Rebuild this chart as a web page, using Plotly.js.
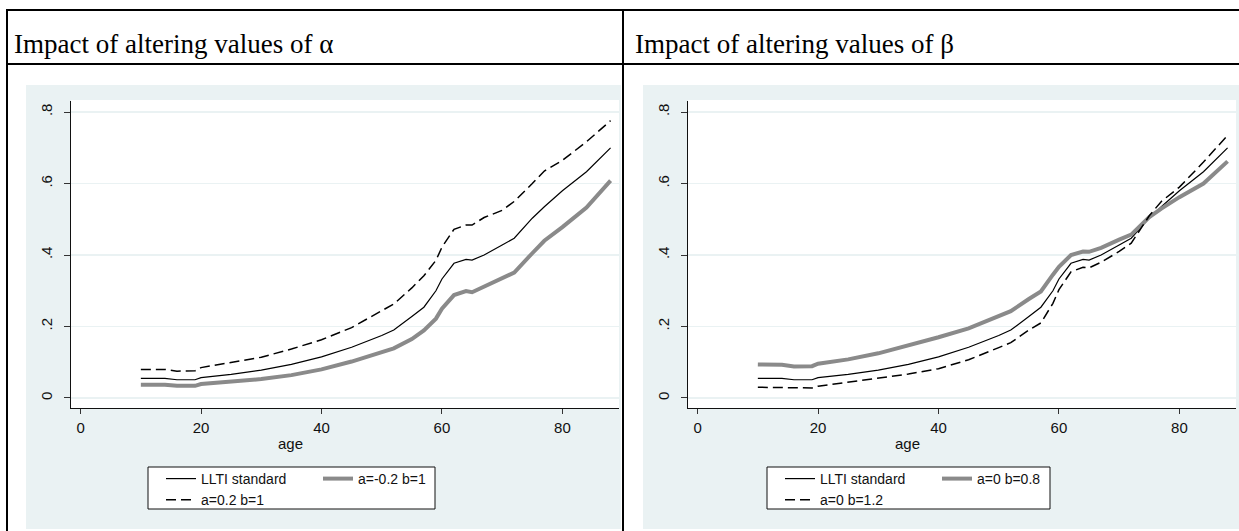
<!DOCTYPE html>
<html><head><meta charset="utf-8">
<script src="https://cdn.plot.ly/plotly-3.0.1.min.js"></script>
<style>html,body{margin:0;padding:0;background:#fff;overflow:hidden}#chart{width:1239px;height:531px}</style>
</head><body><div id="chart"></div>
<script>
// ---- data ----
const age      = [10,14,16,19,20,25,30,35,40,45,50,52,55,57,59,60,62,64,65,67,70,72,75,77,80,84,88];
const lltiStd  = [.055,.055,.051,.051,.057,.066,.078,.094,.115,.142,.175,.190,.228,.254,.300,.333,.377,.388,.386,.400,.428,.447,.503,.535,.580,.633,.700];
const aPlus    = [.080,.080,.075,.076,.085,.100,.114,.137,.163,.197,.243,.263,.308,.342,.385,.422,.472,.484,.484,.505,.525,.550,.600,.635,.665,.717,.776];
const aMinus   = [.037,.037,.034,.034,.039,.045,.053,.064,.080,.102,.127,.139,.165,.189,.222,.250,.288,.299,.296,.311,.335,.351,.405,.440,.478,.533,.608];
const bLow     = [.094,.093,.088,.089,.096,.108,.125,.147,.170,.195,.230,.243,.277,.298,.345,.367,.400,.410,.409,.420,.443,.457,.506,.530,.562,.600,.662];
const bHigh    = [.030,.030,.028,.028,.033,.045,.055,.067,.082,.107,.141,.155,.190,.210,.265,.303,.353,.366,.364,.380,.410,.433,.510,.550,.590,.660,.735];
const xTickVals = [0,20,40,60,80];
const yTickVals = [0,0.2,0.4,0.6,0.8];
const yTickText = ['0','.2','.4','.6','.8'];
const panelTitles = ['Impact of altering values of α','Impact of altering values of β'];
const xTitle = 'age';
const leftNames  = ['LLTI standard','a=-0.2 b=1','a=0.2 b=1'];
const rightNames = ['LLTI standard','a=0 b=0.8','a=0 b=1.2'];

// ---- layout helpers ----
const W = 1239, H = 531;
const px = v => v / W;
const py = v => 1 - v / H;
const BG = '#EAF2F3';
const GRAYLINE = '#8A8A8A';
const sans = 'Liberation Sans, Arial, sans-serif';
const serif = 'Liberation Serif, Times New Roman, serif';

function styleSolid(){ return {color:'#000', width:1.2}; }
function styleGray(){ return {color:GRAYLINE, width:4}; }
function styleDash(){ return {color:'#000', width:1.5, dash:'10px,5px'}; }

const traces = [
  {x:age, y:lltiStd, name:leftNames[0], mode:'lines', line:styleSolid(), xaxis:'x', yaxis:'y', legend:'legend', legendgroup:'L1'},
  {x:age, y:aMinus,  name:leftNames[1], mode:'lines', line:styleGray(),  xaxis:'x', yaxis:'y', legend:'legend', legendgroup:'L2'},
  {x:age, y:aPlus,   name:leftNames[2], mode:'lines', line:styleDash(),  xaxis:'x', yaxis:'y', legend:'legend', legendgroup:'L1'},
  {x:age, y:lltiStd, name:rightNames[0], mode:'lines', line:styleSolid(), xaxis:'x2', yaxis:'y2', legend:'legend2', legendgroup:'R1'},
  {x:age, y:bLow,    name:rightNames[1], mode:'lines', line:styleGray(),  xaxis:'x2', yaxis:'y2', legend:'legend2', legendgroup:'R2'},
  {x:age, y:bHigh,   name:rightNames[2], mode:'lines', line:styleDash(),  xaxis:'x2', yaxis:'y2', legend:'legend2', legendgroup:'R1'}
];

function xAxis(d0, d1, anchor){
  return {domain:[px(d0), px(d1)], anchor:anchor, range:[-1.6, 89.4], tickmode:'array', tickvals:xTickVals,
    ticks:'outside', ticklen:5, tickcolor:'#333', tickwidth:1, showline:true, linecolor:'#111', linewidth:1,
    showgrid:false, zeroline:false, tickfont:{family:sans, size:15, color:'#111'}, ticklabelstandoff:1, fixedrange:true};
}
function yAxis(anchor){
  return {domain:[py(408), py(101)], anchor:anchor, range:[-0.028, 0.831], tickmode:'array', tickvals:yTickVals, ticktext:yTickText,
    tickangle:-90, ticks:'outside', ticklen:6, tickcolor:'#333', tickwidth:1, showline:true, linecolor:'#111', linewidth:1,
    showgrid:true, gridcolor:BG, gridwidth:1.2, zeroline:false, tickfont:{family:sans, size:15, color:'#111'}, ticklabelstandoff:6, fixedrange:true};
}

const shapes = [
  {type:'rect', xref:'paper', yref:'paper', x0:px(26), x1:px(621), y0:py(529), y1:py(85), fillcolor:BG, line:{width:0}, layer:'below'},
  {type:'rect', xref:'paper', yref:'paper', x0:px(643), x1:1, y0:py(529), y1:py(85), fillcolor:BG, line:{width:0}, layer:'below'},
  {type:'rect', xref:'paper', yref:'paper', x0:px(71), x1:px(619), y0:py(408), y1:py(100), fillcolor:'#fff', line:{width:0}, layer:'below'},
  {type:'rect', xref:'paper', yref:'paper', x0:px(688), x1:px(1236), y0:py(408), y1:py(100), fillcolor:'#fff', line:{width:0}, layer:'below'},
  {type:'rect', xref:'paper', yref:'paper', x0:px(148), x1:px(435), y0:py(509), y1:py(467), fillcolor:'#fff', line:{color:'#111', width:1}, layer:'below'},
  {type:'rect', xref:'paper', yref:'paper', x0:px(767), x1:px(1050), y0:py(509), y1:py(467), fillcolor:'#fff', line:{color:'#111', width:1}, layer:'below'},
  // table rules
  {type:'line', xref:'paper', yref:'paper', x0:px(6), x1:1, y0:py(10), y1:py(10), line:{color:'#000', width:2}},
  {type:'line', xref:'paper', yref:'paper', x0:px(6), x1:1, y0:py(64), y1:py(64), line:{color:'#000', width:2}},
  {type:'line', xref:'paper', yref:'paper', x0:px(7), x1:px(7), y0:py(9), y1:0, line:{color:'#000', width:2}},
  {type:'line', xref:'paper', yref:'paper', x0:px(623), x1:px(623), y0:py(9), y1:0, line:{color:'#000', width:2}}
];

const annotations = [
  {text:panelTitles[0], xref:'paper', yref:'paper', x:px(12), y:py(44), xanchor:'left', yanchor:'middle', showarrow:false, font:{family:serif, size:27, color:'#000'}},
  {text:panelTitles[1], xref:'paper', yref:'paper', x:px(633), y:py(44), xanchor:'left', yanchor:'middle', showarrow:false, font:{family:serif, size:27, color:'#000'}},
  {text:xTitle, xref:'paper', yref:'paper', x:px(290), y:py(443), xanchor:'center', yanchor:'middle', showarrow:false, font:{family:sans, size:15, color:'#111'}},
  {text:xTitle, xref:'paper', yref:'paper', x:px(907), y:py(443), xanchor:'center', yanchor:'middle', showarrow:false, font:{family:sans, size:15, color:'#111'}}
];

function legendCfg(x0){
  return {x:px(x0), xanchor:'left', y:py(463), yanchor:'top', orientation:'h', traceorder:'grouped', entrywidth:112,
    bgcolor:'rgba(0,0,0,0)', borderwidth:0, tracegroupgap:0, font:{family:sans, size:14, color:'#111'}};
}

const layout = {
  width:W, height:H, margin:{l:0, r:0, t:0, b:0}, paper_bgcolor:'#fff', plot_bgcolor:'rgba(0,0,0,0)',
  showlegend:true,
  xaxis:xAxis(71, 619, 'y'), yaxis:yAxis('x'),
  xaxis2:xAxis(688, 1236, 'y2'), yaxis2:yAxis('x2'),
  legend:legendCfg(161), legend2:legendCfg(780),
  shapes:shapes, annotations:annotations
};

Plotly.newPlot('chart', traces, layout, {staticPlot:true, displayModeBar:false});
</script></body></html>
